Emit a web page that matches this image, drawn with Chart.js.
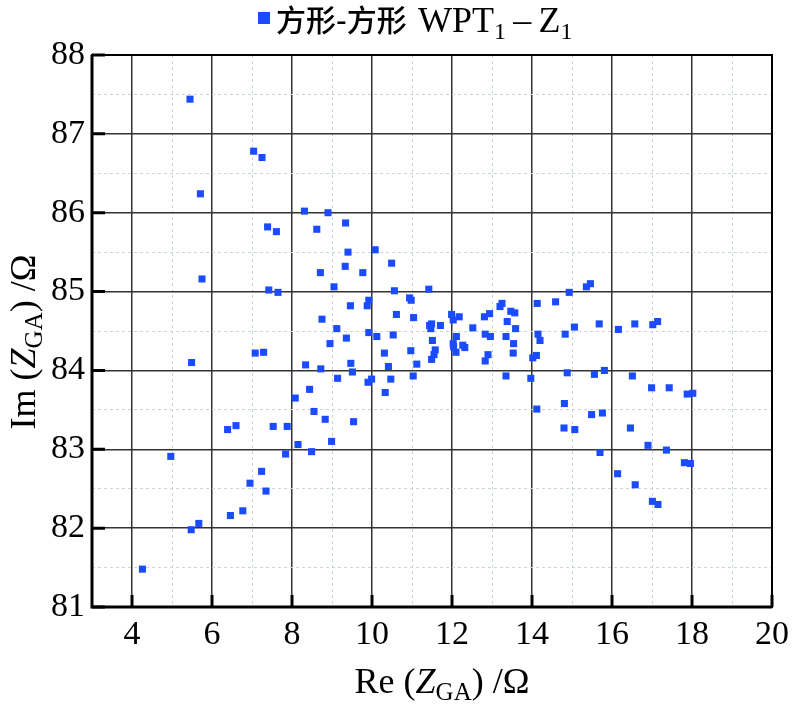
<!DOCTYPE html>
<html>
<head>
<meta charset="utf-8">
<script src="https://cdn.jsdelivr.net/npm/chart.js@4.4.0/dist/chart.umd.min.js"></script>
<style>
  html, body { margin: 0; padding: 0; background: #fff; }
</style>
</head>
<body>
<canvas id="chart" width="797" height="705"></canvas>
<script>
// Re(Z_GA) values (x) and Im(Z_GA) values (y)
const reValues = [
  5.45, 7.04, 7.25, 5.71, 8.31, 8.90, 9.34, 7.39, 7.61, 8.62,
  5.75, 5.49, 7.08, 7.29, 6.39, 6.60, 4.97, 7.24, 6.95, 7.35,
  6.46, 6.77, 5.67, 5.48, 4.26, 7.53, 7.88, 8.15, 8.99, 7.84,
  8.49, 9.40, 10.08, 9.33, 8.71, 9.77, 10.49, 9.05, 7.42, 7.65,
  10.56, 11.42, 9.92, 9.88, 9.46, 10.94, 10.98, 8.75, 10.61, 11.04,
  11.44, 11.49, 11.47, 9.12, 9.92, 10.12, 10.53, 9.36, 8.95, 11.51,
  10.31, 10.97, 11.58, 11.55, 11.49, 8.34, 9.47, 10.41, 11.12, 8.72,
  9.51, 9.14, 9.99, 9.90, 10.47, 11.03, 8.44, 10.33, 8.08, 8.55,
  8.83, 9.54, 14.93, 15.36, 15.46, 14.13, 14.59, 13.20, 13.25, 13.47,
  13.57, 12.81, 12.94, 11.99, 12.18, 12.03, 11.71, 13.38, 12.52, 13.59,
  15.06, 15.68, 12.11, 12.83, 12.96, 13.35, 14.15, 14.83, 14.20, 13.54,
  12.03, 12.04, 12.10, 12.27, 12.32, 12.90, 12.83, 13.53, 14.11, 14.02,
  13.35, 13.97, 14.88, 15.56, 15.81, 14.12, 14.81, 15.49, 15.76, 14.80,
  15.07, 15.70, 16.16, 16.57, 17.02, 17.14, 16.51, 16.99, 17.43, 17.88,
  18.02, 16.46, 16.90, 17.36, 17.81, 17.96, 16.14, 16.58, 17.01, 17.15
];
const imValues = [
  87.44, 86.78, 86.70, 86.24, 86.02, 86.00, 85.87, 85.82, 85.76, 85.79,
  85.16, 84.10, 84.22, 84.23, 83.25, 83.30, 82.91, 82.72, 82.57, 82.47,
  82.16, 82.22, 82.06, 81.98, 81.48, 83.29, 83.29, 83.06, 83.10, 82.94,
  82.97, 85.50, 85.53, 85.32, 85.24, 85.24, 85.36, 85.06, 85.02, 84.99,
  85.01, 85.03, 84.89, 84.82, 84.82, 84.92, 84.89, 84.65, 84.71, 84.67,
  84.57, 84.59, 84.53, 84.53, 84.48, 84.43, 84.45, 84.41, 84.34, 84.38,
  84.22, 84.25, 84.26, 84.20, 84.14, 84.07, 84.09, 84.05, 84.08, 84.02,
  83.98, 83.90, 83.89, 83.85, 83.89, 83.93, 83.76, 83.72, 83.65, 83.48,
  83.38, 83.35, 84.99, 85.06, 85.10, 84.85, 84.87, 84.81, 84.85, 84.75,
  84.73, 84.68, 84.72, 84.71, 84.68, 84.64, 84.57, 84.62, 84.54, 84.53,
  84.55, 84.59, 84.43, 84.46, 84.43, 84.43, 84.46, 84.46, 84.38, 84.34,
  84.34, 84.30, 84.23, 84.32, 84.29, 84.20, 84.12, 84.22, 84.19, 84.16,
  83.93, 83.90, 83.97, 83.95, 84.00, 83.51, 83.58, 83.44, 83.46, 83.27,
  83.25, 82.96, 84.52, 84.59, 84.58, 84.62, 83.93, 83.78, 83.78, 83.70,
  83.71, 83.27, 83.05, 82.99, 82.83, 82.82, 82.69, 82.55, 82.34, 82.30
];
const xMajorTicks = [4, 6, 8, 10, 12, 14, 16, 18, 20];
const yMajorTicks = [81, 82, 83, 84, 85, 86, 87, 88];
const seriesName = '方形-方形';

const blue = '#1a4bff';
const serif = '"Liberation Serif", "Times New Roman", serif';
const cjk = '"Noto Sans CJK SC", sans-serif';

function isMajorX(v) { return xMajorTicks.includes(v); }
function isMajorY(v) { return yMajorTicks.includes(v); }

// draw a run of text pieces (for subscripts / italics)
function drawRich(ctx, parts, x, y, align) {
  let total = 0;
  parts.forEach(p => { ctx.font = p.font; total += ctx.measureText(p.text).width; });
  let cx = align === 'center' ? x - total / 2 : x;
  ctx.textAlign = 'left';
  ctx.textBaseline = 'alphabetic';
  parts.forEach(p => {
    ctx.font = p.font;
    ctx.fillText(p.text, cx, y + (p.dy || 0));
    cx += ctx.measureText(p.text).width;
  });
}

const decor = {
  id: 'decor',
  afterDraw(chart) {
    const ctx = chart.ctx;
    const a = chart.chartArea;
    const xs = chart.scales.x, ys = chart.scales.y;
    ctx.save();
    ctx.fillStyle = '#000';
    ctx.strokeStyle = '#000';

    // frame
    ctx.lineWidth = 2;
    ctx.strokeRect(a.left, a.top, a.right - a.left, a.bottom - a.top);
    ctx.lineWidth = 3;
    ctx.beginPath();
    ctx.moveTo(a.left, a.top);
    ctx.lineTo(a.left, a.bottom);
    ctx.lineTo(a.right, a.bottom);
    ctx.stroke();

    // inward major ticks
    ctx.lineWidth = 3;
    ctx.beginPath();
    xMajorTicks.forEach(v => {
      const px = xs.getPixelForValue(v);
      ctx.moveTo(px, a.bottom);
      ctx.lineTo(px, a.bottom - 12);
    });
    yMajorTicks.forEach(v => {
      const py = ys.getPixelForValue(v);
      ctx.moveTo(a.left, py);
      ctx.lineTo(a.left + 13, py);
    });
    ctx.stroke();

    // axis titles
    const big = '36px ' + serif;
    const ital = 'italic 36px ' + serif;
    const sub = '25px ' + serif;
    drawRich(ctx, [
      { text: 'Re (', font: big },
      { text: 'Z', font: ital },
      { text: 'GA', font: sub, dy: 7 },
      { text: ') /Ω', font: big }
    ], (a.left + a.right) / 2 + 10, 693, 'center');

    ctx.save();
    ctx.translate(35, (a.top + a.bottom) / 2 + 11);
    ctx.rotate(-Math.PI / 2);
    drawRich(ctx, [
      { text: 'Im (', font: big },
      { text: 'Z', font: ital },
      { text: 'GA', font: sub, dy: 7 },
      { text: ') /Ω', font: big }
    ], 0, 0, 'center');
    ctx.restore();

    // legend
    ctx.fillStyle = blue;
    ctx.fillRect(258, 12, 12, 12);
    ctx.fillStyle = '#000';
    drawRich(ctx, [
      { text: seriesName, font: '500 30px ' + cjk }
    ], 276, 31, 'left');
    drawRich(ctx, [
      { text: 'WPT', font: '36px ' + serif },
      { text: '1', font: '24px ' + serif, dy: 7 },
      { text: '\u2009–\u2009', font: '36px ' + serif },
      { text: 'Z', font: '36px ' + serif },
      { text: '1', font: '24px ' + serif, dy: 7 }
    ], 418, 32, 'left');

    ctx.restore();
  }
};

new Chart(document.getElementById('chart'), {
  type: 'scatter',
  data: {
    datasets: [{
      label: seriesName,
      data: reValues.map((x, i) => ({ x: x, y: imValues[i] })),
      pointStyle: 'rect',
      pointRadius: 5,
      pointHoverRadius: 5,
      backgroundColor: blue,
      borderColor: blue,
      borderWidth: 0
    }]
  },
  options: {
    responsive: false,
    animation: false,
    layout: { padding: { top: 55, right: 19, left: 0, bottom: 0 } },
    plugins: {
      legend: { display: false },
      tooltip: { enabled: false }
    },
    scales: {
      x: {
        type: 'linear',
        min: 3,
        max: 20,
        afterFit: s => { s.height = 98; },
        ticks: {
          stepSize: 1,
          autoSkip: false,
          maxRotation: 0,
          padding: 8,
          color: '#000',
          font: { family: serif, size: 34 },
          callback: v => isMajorX(v) ? v : ''
        },
        grid: {
          drawTicks: false,
          color: c => c.tick && isMajorX(c.tick.value) ? '#333' : '#c8d6d6',
          lineWidth: c => c.tick && isMajorX(c.tick.value) ? 1.5 : 1
        },
        border: {
          display: false,
          dash: c => c.tick && isMajorX(c.tick.value) ? [] : [3, 3]
        }
      },
      y: {
        type: 'linear',
        min: 81,
        max: 88,
        afterFit: s => { s.width = 92; },
        ticks: {
          stepSize: 0.5,
          autoSkip: false,
          padding: 7,
          color: '#000',
          font: { family: serif, size: 34 },
          callback: v => isMajorY(v) ? v : ''
        },
        grid: {
          drawTicks: false,
          color: c => c.tick && isMajorY(c.tick.value) ? '#333' : '#c8d6d6',
          lineWidth: c => c.tick && isMajorY(c.tick.value) ? 1.5 : 1
        },
        border: {
          display: false,
          dash: c => c.tick && isMajorY(c.tick.value) ? [] : [3, 3]
        }
      }
    }
  },
  plugins: [decor]
});
</script>
</body>
</html>
